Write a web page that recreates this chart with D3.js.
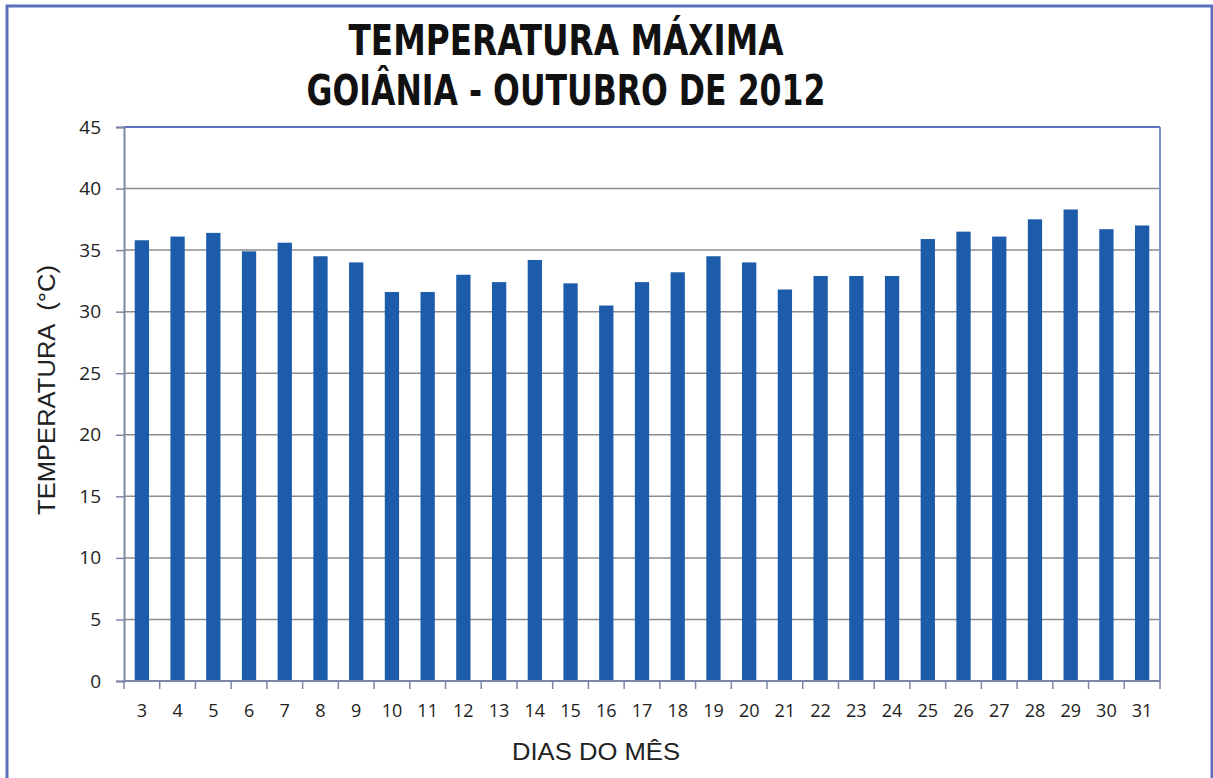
<!DOCTYPE html>
<html>
<head>
<meta charset="utf-8">
<script src="https://cdn.jsdelivr.net/npm/d3@7"></script>
<style>
  body { margin: 0; background: #fff; }
  svg { display: block; }
</style>
</head>
<body>
<div id="chart"></div>
<script>
// dias do mês e temperatura máxima (°C)
const dias = [3, 4, 5, 6, 7, 8, 9, 10, 11, 12, 13, 14, 15, 16, 17, 18, 19, 20, 21, 22, 23, 24, 25, 26, 27, 28, 29, 30, 31];
const tempMax = [35.8, 36.1, 36.4, 34.9, 35.6, 34.5, 34.0, 31.6, 31.6, 33.0, 32.4, 34.2, 32.3, 30.5, 32.4, 33.2, 34.5, 34.0, 31.8, 32.9, 32.9, 32.9, 35.9, 36.5, 36.1, 37.5, 38.3, 36.7, 37.0];
const yTicks = [0, 5, 10, 15, 20, 25, 30, 35, 40, 45];
const titleLines = ["TEMPERATURA MÁXIMA", "GOIÂNIA - OUTUBRO DE 2012"];
const titleWidths = [435, 519];

const W = 1213, H = 778;
const margin = { top: 127, right: 53, bottom: 97, left: 124 };
const innerW = W - margin.left - margin.right;
const innerH = H - margin.top - margin.bottom;

const svg = d3.select("#chart").append("svg")
  .attr("width", W)
  .attr("height", H);

// moldura externa
svg.append("rect")
  .attr("x", 7).attr("y", 6)
  .attr("width", W - 8).attr("height", H + 10)
  .attr("fill", "none")
  .attr("stroke", "#5b70bd")
  .attr("stroke-width", 3);

// titulo
svg.selectAll(".title")
  .data(titleLines)
  .join("text")
  .attr("class", "title")
  .attr("x", 566)
  .attr("y", (d, i) => 55 + i * 50)
  .attr("text-anchor", "middle")
  .attr("textLength", (d, i) => titleWidths[i])
  .attr("lengthAdjust", "spacingAndGlyphs")
  .style("font-family", "'Liberation Sans Narrow', 'Arial Narrow', 'DejaVu Sans Condensed', sans-serif")
  .style("font-weight", "bold")
  .style("font-size", "42px")
  .style("fill", "#111")
  .text(d => d);

const g = svg.append("g").attr("transform", `translate(${margin.left},${margin.top})`);

const x = d3.scaleBand().domain(dias).range([0, innerW]).paddingInner(0.6).paddingOuter(0.3);
const xTicksScale = d3.scaleLinear().domain([0, dias.length]).range([0, innerW]);
const y = d3.scaleLinear().domain([0, 45]).range([innerH, 0]);

// grade horizontal
g.selectAll(".grid")
  .data(yTicks.filter(d => d > 0 && d < 45))
  .join("line")
  .attr("class", "grid")
  .attr("x1", 0).attr("x2", innerW)
  .attr("y1", d => y(d)).attr("y2", d => y(d))
  .attr("stroke", "#8c8c8c")
  .attr("stroke-width", 1.5);

// borda da area do grafico (topo e direita)
g.append("line")
  .attr("x1", 0).attr("x2", innerW).attr("y1", 0).attr("y2", 0)
  .attr("stroke", "#5b70bd").attr("stroke-width", 2);
g.append("line")
  .attr("x1", innerW).attr("x2", innerW).attr("y1", 0).attr("y2", innerH)
  .attr("stroke", "#7f8fcc").attr("stroke-width", 2);

// barras
g.selectAll(".bar")
  .data(tempMax)
  .join("rect")
  .attr("class", "bar")
  .attr("x", (d, i) => x(dias[i]))
  .attr("y", d => y(d))
  .attr("width", x.bandwidth())
  .attr("height", d => innerH - y(d))
  .attr("fill", "#1c5cab");

// eixo y
const yAxis = g.append("g")
  .call(d3.axisLeft(y).tickValues(yTicks).tickSize(8).tickPadding(15));
yAxis.select(".domain").attr("stroke", "#7d86a8").attr("stroke-width", 2);
yAxis.selectAll(".tick line").attr("stroke", "#7d86a8").attr("stroke-width", 1.5);
yAxis.selectAll("text")
  .style("font-family", "'Open Sans', 'Liberation Sans', sans-serif")
  .style("font-size", "19px")
  .style("fill", "#222");

// eixo x
const xAxisG = g.append("g").attr("transform", `translate(0,${innerH})`);
xAxisG.append("line")
  .attr("x1", 0).attr("x2", innerW)
  .attr("stroke", "#7d86a8").attr("stroke-width", 2);
xAxisG.selectAll(".xtick")
  .data(d3.range(dias.length + 1))
  .join("line")
  .attr("class", "xtick")
  .attr("x1", d => xTicksScale(d)).attr("x2", d => xTicksScale(d))
  .attr("y1", 0).attr("y2", 8)
  .attr("stroke", "#7d86a8").attr("stroke-width", 1.5);
xAxisG.selectAll(".xlabel")
  .data(dias)
  .join("text")
  .attr("class", "xlabel")
  .attr("x", d => x(d) + x.bandwidth() / 2)
  .attr("y", 36)
  .attr("text-anchor", "middle")
  .style("font-family", "'Open Sans', 'Liberation Sans', sans-serif")
  .style("font-size", "18px")
  .style("fill", "#222")
  .text(d => d);

// titulos dos eixos
svg.append("text")
  .attr("transform", "translate(55,390) rotate(-90)")
  .attr("text-anchor", "middle")
  .attr("textLength", 250)
  .attr("lengthAdjust", "spacingAndGlyphs")
  .style("white-space", "pre")
  .style("font-family", "'Liberation Sans', Arial, sans-serif")
  .style("font-size", "23px")
  .style("fill", "#222")
  .text("TEMPERATURA  (°C)");

svg.append("text")
  .attr("x", 596)
  .attr("y", 760)
  .attr("text-anchor", "middle")
  .attr("textLength", 168)
  .attr("lengthAdjust", "spacingAndGlyphs")
  .style("font-family", "'Liberation Sans', Arial, sans-serif")
  .style("font-size", "24px")
  .style("fill", "#222")
  .text("DIAS DO MÊS");
</script>
</body>
</html>
